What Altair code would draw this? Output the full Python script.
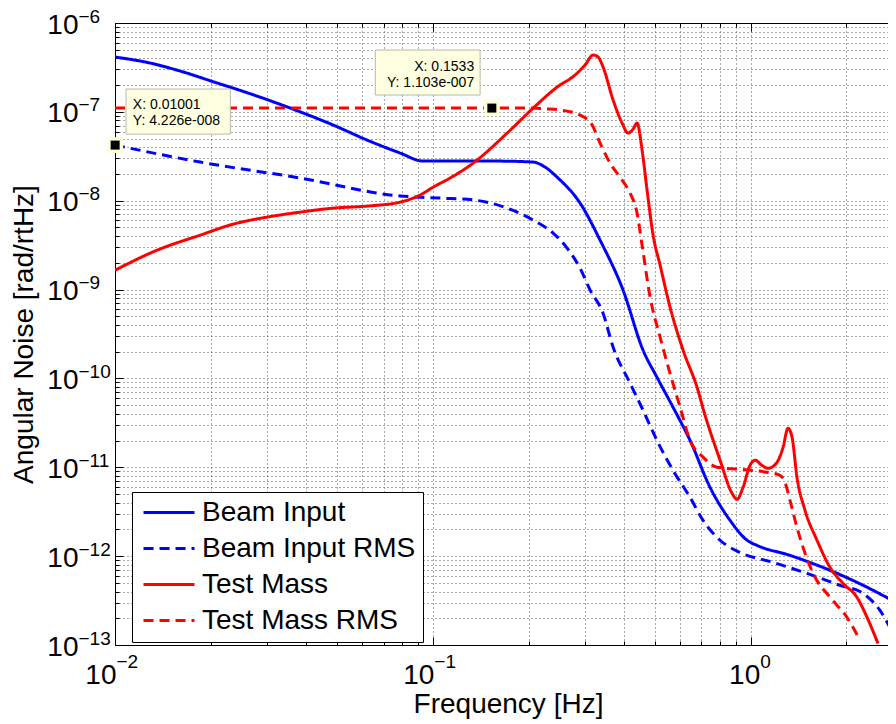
import altair as alt
import pandas as pd

FONT = "Liberation Sans"

# ---------------- data ----------------
series_names = ["Beam Input", "Beam Input RMS", "Test Mass", "Test Mass RMS"]
series_colors = ["#0000ff", "#0000ff", "#ff0000", "#ff0000"]
series_dashes = [[1, 0], [10, 6], [1, 0], [10, 6]]

# Beam Input (solid blue)
bi_f = [0.0100, 0.01291, 0.01640, 0.02097, 0.02355, 0.0369, 0.04859, 0.06214, 0.0789, 0.0932,
        0.1133, 0.1628, 0.2067, 0.2254, 0.2460, 0.2905, 0.3358, 0.3967, 0.4584, 0.5070,
        0.5696, 0.6443, 0.7447, 0.8608, 0.9736, 1.047, 1.329, 1.776, 2.159, 2.863]
bi_v = [4.14e-7, 3.54e-7, 2.81e-7, 2.11e-7, 1.85e-7, 1.05e-7, 7.10e-8, 4.81e-8, 3.44e-8, 2.79e-8,
        2.79e-8, 2.79e-8, 2.72e-8, 2.39e-8, 1.84e-8, 9.40e-9, 3.60e-9, 9.84e-10, 2.08e-10, 1.03e-10,
        4.74e-11, 2.01e-11, 5.95e-12, 2.53e-12, 1.51e-12, 1.32e-12, 1.02e-12, 6.92e-13, 5.07e-13, 3.02e-13]

# Beam Input RMS (dashed blue)
bir_f = [0.0100, 0.01854, 0.03826, 0.0789, 0.1054, 0.1339, 0.1713, 0.2067, 0.2389, 0.2644,
         0.2905, 0.3125, 0.3431, 0.3690, 0.4173, 0.4584, 0.5070, 0.5696, 0.6443, 0.7079,
         0.8008, 0.9256, 1.175, 1.503, 1.909, 2.255, 2.551, 2.802]
bir_v = [4.226e-8, 2.72e-8, 1.80e-8, 1.13e-8, 1.07e-8, 1.02e-8, 8.25e-9, 6.05e-9, 4.32e-9, 2.93e-9,
         1.74e-9, 9.84e-10, 5.42e-10, 2.25e-10, 8.83e-11, 4.39e-11, 2.01e-11, 9.25e-12, 4.59e-12, 2.53e-12,
         1.51e-12, 1.10e-12, 8.51e-13, 6.40e-13, 4.69e-13, 3.81e-13, 2.45e-13, 1.35e-13]

# Test Mass (solid red)
tm_f = [0.0100, 0.01358, 0.01854, 0.02355, 0.03012, 0.03826, 0.04859, 0.06214, 0.0789, 0.09123,
        0.1002, 0.1133, 0.1339, 0.1713, 0.2067, 0.2460, 0.2802, 0.3012, 0.3192, 0.3310,
        0.3431, 0.3690, 0.3938, 0.4114, 0.4265, 0.4390, 0.4552, 0.4719, 0.4930, 0.5187,
        0.5574, 0.6127, 0.6777, 0.7184, 0.8008, 0.8733, 0.9055, 0.9458, 0.995, 1.032,
        1.085, 1.133, 1.210, 1.264, 1.310, 1.349, 1.398, 1.482, 1.616, 1.776,
        1.951, 2.159, 2.322, 2.514]
tm_v = [1.65e-9, 2.78e-9, 4.10e-9, 5.45e-9, 6.54e-9, 7.44e-9, 8.25e-9, 8.70e-9, 9.64e-9, 1.16e-8,
        1.42e-8, 1.80e-8, 2.65e-8, 5.77e-8, 1.10e-7, 1.90e-7, 2.60e-7, 3.37e-7, 4.36e-7, 4.14e-7,
        3.20e-7, 1.36e-7, 7.48e-8, 5.77e-8, 6.40e-8, 7.48e-8, 3.71e-8, 1.32e-8, 4.10e-9, 1.88e-9,
        6.34e-10, 2.08e-10, 7.96e-11, 3.85e-11, 1.20e-11, 5.10e-12, 4.36e-12, 5.95e-12, 1.05e-11, 1.20e-11,
        1.05e-11, 9.74e-12, 1.14e-11, 1.68e-11, 2.75e-11, 2.18e-11, 7.72e-12, 3.28e-12, 1.51e-12, 7.48e-13,
        4.94e-13, 3.44e-13, 2.05e-13, 1.04e-13]

# Test Mass RMS (dashed red)
tmr_f = [0.0100, 0.03826, 0.1533, 0.2023, 0.2254, 0.2514, 0.2905, 0.3170, 0.3358, 0.3610,
         0.3938, 0.4173, 0.4390, 0.4552, 0.4825, 0.5187, 0.5574, 0.5995, 0.6443, 0.7079,
         0.7834, 0.9256, 1.125, 1.236, 1.282, 1.329, 1.398, 1.482, 1.571, 1.776,
         2.008, 2.207]
tmr_v = [1.103e-7, 1.103e-7, 1.103e-7, 1.103e-7, 1.08e-7, 1.05e-7, 9.20e-8, 7.10e-8, 4.45e-8, 2.65e-8,
         1.71e-8, 1.22e-8, 7.25e-9, 3.16e-9, 8.21e-10, 2.91e-10, 1.14e-10, 4.74e-11, 2.01e-11, 1.30e-11,
         1.00e-11, 9.49e-12, 8.78e-12, 8.13e-12, 6.78e-12, 4.25e-12, 2.11e-12, 1.08e-12, 6.40e-13, 3.44e-13,
         2.05e-13, 1.13e-13]

# axis ticks
x_decades = [0.01, 0.1, 1.0]
y_decades = [1e-13, 1e-12, 1e-11, 1e-10, 1e-9, 1e-8, 1e-7, 1e-6]
x_max = 2.703
x_grid = [m * d for d in x_decades for m in range(1, 10) if m * d <= x_max]
y_grid = [m * d for d in y_decades[:-1] for m in range(1, 10)] + [y_decades[-1]]
x_minor = [v for v in x_grid if v not in x_decades]
y_minor = [v for v in y_grid if v not in y_decades]

# data tips
tip_x = [0.01001, 0.1533]
tip_y = [4.226e-8, 1.103e-7]
tip_box_x1 = [0.01083, 0.0659]
tip_box_x2 = [0.02306, 0.1408]
tip_box_y1 = [5.62e-8, 1.546e-7]
tip_box_y2 = [1.806e-7, 4.96e-7]
tip_line1 = ["X: 0.01001", "X: 0.1533"]
tip_line2 = ["Y: 4.226e-008", "Y: 1.103e-007"]
tip_text_x = [0.01138, 0.1349]
tip_text_y1 = [1.193e-7, 3.195e-7]
tip_text_y2 = [7.88e-8, 2.11e-7]

# ---------------- tables ----------------
rows = []
for name, fs, vs in [(series_names[0], bi_f, bi_v), (series_names[1], bir_f, bir_v),
                     (series_names[2], tm_f, tm_v), (series_names[3], tmr_f, tmr_v)]:
    for f, v in zip(fs, vs):
        rows.append({"series": name, "f": f, "v": v})
df = pd.DataFrame(rows)

tips = pd.DataFrame({"f": tip_x, "v": tip_y})
boxes = pd.DataFrame({"x1": tip_box_x1, "x2": tip_box_x2, "y1": tip_box_y1, "y2": tip_box_y2})
texts_left = pd.DataFrame({"f": [tip_text_x[0]] * 2, "v": [tip_text_y1[0], tip_text_y2[0]],
                           "t": [tip_line1[0], tip_line2[0]]})
texts_right = pd.DataFrame({"f": [tip_text_x[1]] * 2, "v": [tip_text_y1[1], tip_text_y2[1]],
                            "t": [tip_line1[1], tip_line2[1]]})
dec_df = pd.DataFrame({"f": [x_decades[0]] * len(y_decades), "v": y_decades})

# 107 + 773 = 880 = page width minus the two 8px body margins (no shrinking)
W, H = 773, 622
xs = alt.Scale(type="log", domain=[0.01, x_max], nice=False)
ys = alt.Scale(type="log", domain=[1e-13, 1e-6], nice=False)

GRID = dict(grid=True, gridColor="#555555", gridDash=[1, 3], gridWidth=1,
            labels=False, ticks=False, tickSize=0, domain=True, domainColor="black", domainWidth=1)

grid_x_axis = alt.Axis(orient="bottom", values=x_grid, title="Frequency [Hz]",
                       titleFontSize=28, titleFont=FONT, titleFontWeight="normal",
                       titleColor="black", titlePadding=45, titleX=393, **GRID)
grid_y_axis = alt.Axis(orient="left", values=y_grid, title="Angular Noise [rad/rtHz]",
                       titleFontSize=28, titleFont=FONT, titleFontWeight="normal",
                       titleColor="black", titlePadding=77, **GRID)

leg = alt.Legend(title=None, orient="none", legendX=17, legendY=469, direction="vertical",
                 fillColor="white", strokeColor="black", padding=7,
                 cornerRadius=0, symbolType="stroke", symbolSize=2601, symbolStrokeWidth=3,
                 symbolOffset=3, clipHeight=27, rowPadding=7, labelFont=FONT, labelFontSize=28,
                 labelColor="black", labelLimit=400, labelOffset=6, labelBaseline="middle")

lines = alt.Chart(df).mark_line(strokeWidth=3, interpolate="monotone", clip=True).encode(
    x=alt.X("f:Q", scale=xs, axis=grid_x_axis),
    y=alt.Y("v:Q", scale=ys, axis=grid_y_axis),
    color=alt.Color("series:N", scale=alt.Scale(domain=series_names, range=series_colors), legend=leg),
    strokeDash=alt.StrokeDash("series:N", scale=alt.Scale(domain=series_names, range=series_dashes),
                              legend=leg),
)

rects = alt.Chart(boxes).mark_rect(fill="#ffffe1", stroke="#b9b9a8", strokeWidth=1).encode(
    x=alt.X("x1:Q", scale=xs, axis=None), x2="x2:Q",
    y=alt.Y("y1:Q", scale=ys, axis=None), y2="y2:Q",
)
txt_l = alt.Chart(texts_left).mark_text(align="left", baseline="middle", font=FONT, fontSize=14,
                                        color="black").encode(
    x=alt.X("f:Q", scale=xs, axis=None), y=alt.Y("v:Q", scale=ys, axis=None), text="t:N")
txt_r = alt.Chart(texts_right).mark_text(align="right", baseline="middle", font=FONT, fontSize=14,
                                         color="black").encode(
    x=alt.X("f:Q", scale=xs, axis=None), y=alt.Y("v:Q", scale=ys, axis=None), text="t:N")
halo = alt.Chart(tips).mark_square(size=256, color="#ffffd8", opacity=1).encode(
    x=alt.X("f:Q", scale=xs, axis=None), y=alt.Y("v:Q", scale=ys, axis=None))
marker = alt.Chart(tips).mark_square(size=81, color="black", opacity=1).encode(
    x=alt.X("f:Q", scale=xs, axis=None), y=alt.Y("v:Q", scale=ys, axis=None))

LBL = dict(grid=False, ticks=False, tickSize=0, domain=False, labelFlush=False,
           labelOverlap=False, title=None, labelFont=FONT, labelColor="black")
EXP = "format(round(log(datum.value) / LN10), 'd')"


def x_label_layer(values, expr, align, pad, size, off):
    return alt.Chart(dec_df).mark_point(opacity=0).encode(
        x=alt.X("f:Q", scale=xs, axis=alt.Axis(orient="bottom", values=values, labelExpr=expr,
                                               labelAlign=align, labelBaseline="middle",
                                               labelPadding=pad, labelOffset=off,
                                               labelFontSize=size, **LBL)),
        y=alt.Y("v:Q", scale=ys, axis=None),
    )


def y_label_layer(expr, align, size, off):
    return alt.Chart(dec_df).mark_point(opacity=0).encode(
        x=alt.X("f:Q", scale=xs, axis=None),
        y=alt.Y("v:Q", scale=ys, axis=alt.Axis(orient="left", values=y_decades, labelExpr=expr,
                                               labelAlign=align, labelBaseline="middle",
                                               labelPadding=37, labelOffset=off,
                                               labelFontSize=size, **LBL)),
    )


def tick_layer(channel, orient, values, size):
    ax = alt.Axis(orient=orient, values=values, ticks=True, tickSize=size, tickColor="black",
                  tickWidth=1, offset=-size, labels=False, domain=False, grid=False, title=None)
    if channel == "x":
        return alt.Chart(dec_df).mark_point(opacity=0).encode(
            x=alt.X("f:Q", scale=xs, axis=ax), y=alt.Y("v:Q", scale=ys, axis=None))
    return alt.Chart(dec_df).mark_point(opacity=0).encode(
        x=alt.X("f:Q", scale=xs, axis=None), y=alt.Y("v:Q", scale=ys, axis=ax))


label_layers = [
    x_label_layer(x_decades[:2], "'10'", "right", 30, 28, 1),
    x_label_layer(x_decades[2:], "'10'", "right", 30, 28, 9),
    x_label_layer(x_decades[:2], EXP, "left", 16, 19, 1),
    x_label_layer(x_decades[2:], EXP, "left", 16, 19, 9),
    y_label_layer("'10'", "right", 28, 2),
    y_label_layer(EXP, "left", 19, -7),
]
tick_layers = [
    tick_layer("x", "bottom", x_decades, 8), tick_layer("x", "bottom", x_minor, 4),
    tick_layer("x", "top", x_decades, 8), tick_layer("x", "top", x_minor, 4),
    tick_layer("y", "left", y_decades, 8), tick_layer("y", "left", y_minor, 4),
]

top = alt.Chart(dec_df).mark_point(opacity=0).encode(
    x=alt.X("f:Q", scale=xs, axis=alt.Axis(orient="top", labels=False, ticks=False, tickSize=0,
                                           grid=False, domain=True, domainColor="black",
                                           domainWidth=1, title=None)),
    y=alt.Y("v:Q", scale=ys, axis=None),
)

chart = alt.layer(lines, rects, txt_l, txt_r, halo, marker, top, *tick_layers, *label_layers).resolve_axis(
    x="independent", y="independent"
).properties(
    width=W, height=H,
    padding={"left": 107, "right": 0, "top": 15, "bottom": 74},
    autosize=alt.AutoSizeParams(type="none"),
    background="white",
).configure_view(stroke="transparent")

chart.save("out.html", embed_options={"renderer": "svg", "actions": False})
